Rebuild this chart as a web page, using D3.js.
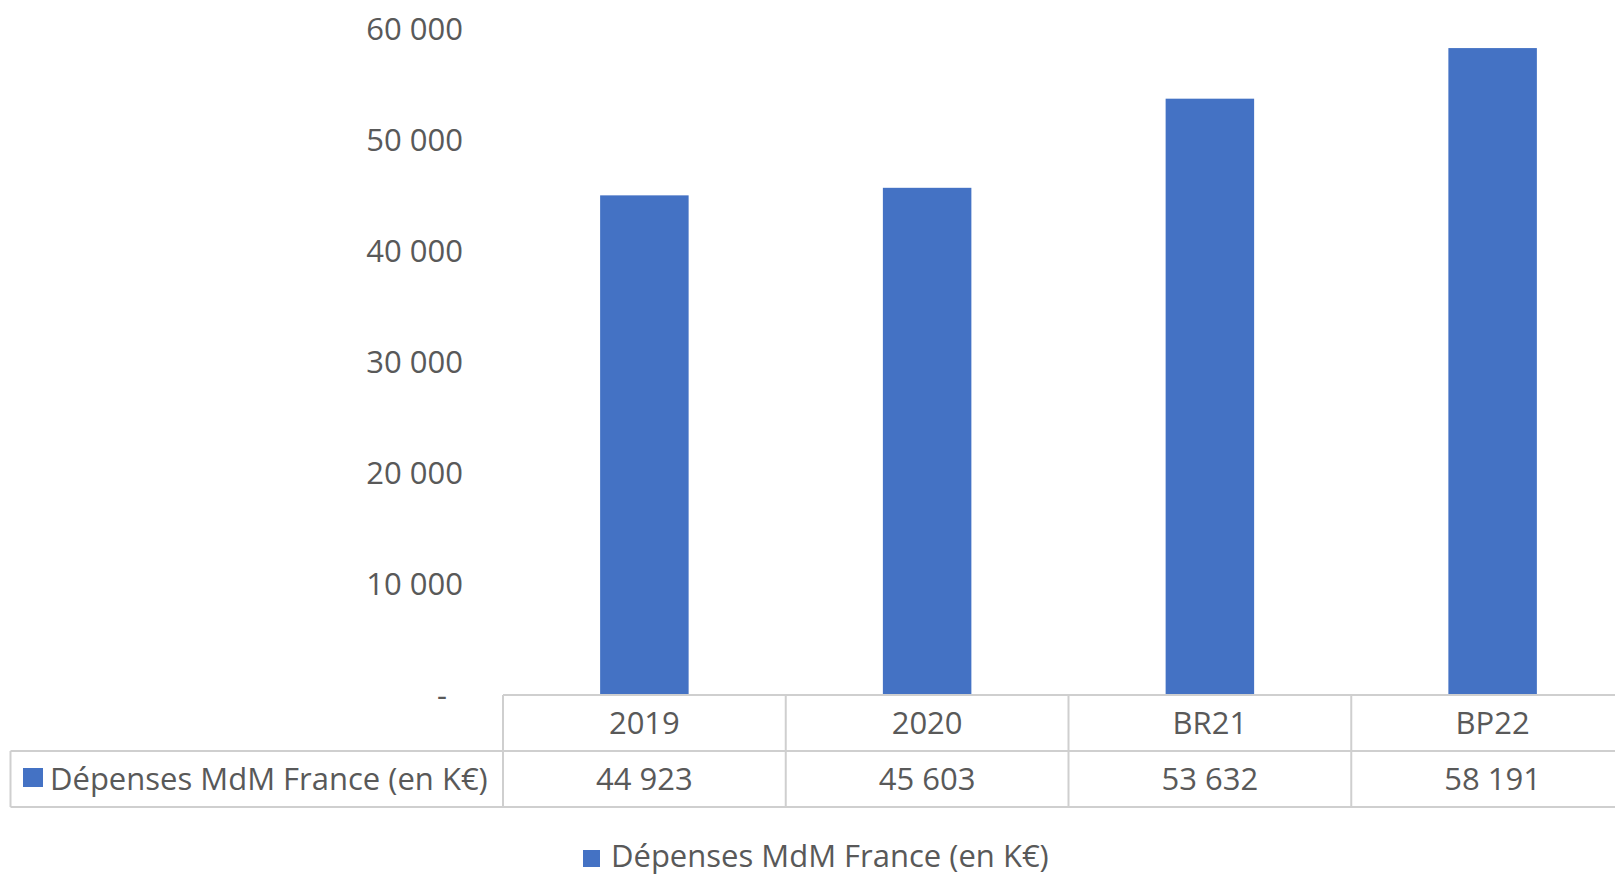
<!DOCTYPE html>
<meta charset="utf-8">
<style>
body {
  margin: 0;
  background: #fff;
  font-family: 'Open Sans', sans-serif;
}
svg text {
  fill: #595959;
}
</style>
<svg width="1615" height="876"></svg>
<script src="https://d3js.org/d3.v7.min.js"></script>
<script>
// data
var categories = ["2019", "2020", "BR21", "BP22"];
var values = [44923, 45603, 53632, 58191];
var seriesName = "Dépenses MdM France (en K€)";
var yTicks = [0, 10000, 20000, 30000, 40000, 50000, 60000];

var svg = d3.select("svg"),
    blue = "#4472C4",
    grid = "#cfcfcf",
    fontSize = 31;

// french style thousands
var fr = d3.formatLocale({decimal: ",", thousands: "\u00a0", grouping: [3], currency: ["", " €"]});
var fmt = function(v) { return v === 0 ? "-" : fr.format(",")(v); };

var x = d3.scaleBand()
    .domain(categories)
    .range([503, 1634]);

var y = d3.scaleLinear()
    .domain([0, 60000])
    .range([694, 28]);

var barRatio = 0.313;

// bars
svg.append("g")
  .selectAll("rect")
  .data(values)
  .enter().append("rect")
    .attr("x", function(d, i) { return x(categories[i]) + x.bandwidth() * (1 - barRatio) / 2; })
    .attr("width", x.bandwidth() * barRatio)
    .attr("y", function(d) { return y(d); })
    .attr("height", function(d) { return y(0) - y(d); })
    .attr("fill", blue);

// y axis labels (no line, no ticks)
var yAxis = svg.append("g")
    .attr("transform", "translate(463,0)")
    .call(d3.axisLeft(y).tickValues(yTicks).tickFormat(fmt).tickSize(0).tickPadding(0));
yAxis.select(".domain").remove();
yAxis.selectAll("text")
    .attr("font-family", "'Open Sans', sans-serif")
    .attr("font-size", fontSize)
    .attr("dy", "0.36em")
    .attr("dx", function(d) { return d === 0 ? -16 : 0; })
    .style("fill", "#595959");

// data table under the plot
var rowTop = 695, rowMid = 751, rowBot = 807, leftEdge = 10.5;
var table = svg.append("g")
    .attr("stroke", grid)
    .attr("stroke-width", 2)
    .attr("fill", "none");

table.append("line").attr("x1", x.range()[0]).attr("x2", 1615).attr("y1", rowTop).attr("y2", rowTop);
table.append("line").attr("x1", leftEdge).attr("x2", 1615).attr("y1", rowMid).attr("y2", rowMid);
table.append("line").attr("x1", leftEdge).attr("x2", 1615).attr("y1", rowBot).attr("y2", rowBot);
table.append("line").attr("x1", leftEdge).attr("x2", leftEdge).attr("y1", rowMid).attr("y2", rowBot);
table.selectAll(".v")
  .data(categories)
  .enter().append("line")
    .attr("x1", function(d) { return x(d); })
    .attr("x2", function(d) { return x(d); })
    .attr("y1", rowTop)
    .attr("y2", rowBot);

svg.append("g").selectAll("text")
  .data(categories)
  .enter().append("text")
    .attr("x", function(d) { return x(d) + x.bandwidth() / 2; })
    .attr("y", (rowTop + rowMid) / 2)
    .attr("dy", "0.36em")
    .attr("text-anchor", "middle")
    .attr("font-size", fontSize)
    .text(function(d) { return d; });

svg.append("g").selectAll("text")
  .data(values)
  .enter().append("text")
    .attr("x", function(d, i) { return x(categories[i]) + x.bandwidth() / 2; })
    .attr("y", (rowMid + rowBot) / 2)
    .attr("dy", "0.36em")
    .attr("text-anchor", "middle")
    .attr("font-size", fontSize)
    .text(function(d) { return fmt(d); });

// series key inside the table
svg.append("rect")
    .attr("x", 23).attr("y", 768)
    .attr("width", 20).attr("height", 19)
    .attr("fill", blue);
svg.append("text")
    .attr("x", 50)
    .attr("y", (rowMid + rowBot) / 2)
    .attr("dy", "0.36em")
    .attr("font-size", fontSize)
    .text(seriesName);

// legend at the bottom
svg.append("rect")
    .attr("x", 583).attr("y", 850)
    .attr("width", 17).attr("height", 17)
    .attr("fill", blue);
svg.append("text")
    .attr("x", 611)
    .attr("y", 856)
    .attr("dy", "0.36em")
    .attr("font-size", fontSize)
    .text(seriesName);
</script>
